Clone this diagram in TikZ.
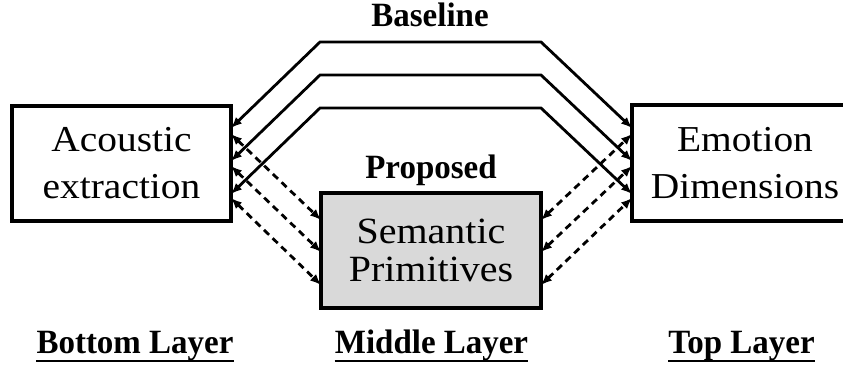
\documentclass[tikz,border=0pt]{standalone}
\usepackage{fontspec}
\setmainfont[FakeStretch=1.08]{Liberation Serif}
\newfontfamily\lblfont[FakeStretch=0.97]{Liberation Serif}
\usetikzlibrary{arrows.meta}
\definecolor{semgray}{HTML}{D9D9D9}
\begin{document}
\begin{tikzpicture}[x=1pt,y=-1pt,
  box/.style={draw, line width=3.2pt, outer sep=0pt, inner sep=0pt, align=center, font=\fontsize{36.5}{47}\selectfont},
  conn/.style={line width=2.8pt, {Latex[length=11pt,width=9pt]}-{Latex[length=11pt,width=9pt]}},
  dconn/.style={conn, dash pattern=on 7pt off 5pt},
  lbl/.style={font=\lblfont\bfseries\fontsize{34}{38}\selectfont, inner sep=0pt},
  uline/.style={line width=2.8pt}
]
\clip (0,0) rectangle (843,367);
\node[box, minimum width=219pt, minimum height=115pt] (A) at (121.5,163.5) {Acoustic\\extraction};
\node[box, minimum width=226pt, minimum height=116pt] (E) at (745,163) {Emotion\\Dimensions};
\node[box, fill=semgray, minimum width=220pt, minimum height=115pt, font=\fontsize{37}{38}\selectfont] (S) at (431,250.5) {Semantic\\Primitives};

% baseline connections (solid)
\draw[conn] (A.east |- 0,128) -- (320,42) -- (541,42) -- (E.west |- 0,128);
\draw[conn] (A.east |- 0,161) -- (320,75) -- (541,75) -- (E.west |- 0,161);
\draw[conn] (A.east |- 0,194) -- (320,108) -- (541,108) -- (E.west |- 0,194);

% proposed connections (dashed)
\draw[dconn] (A.east |- 0,134) -- (S.west |- 0,220);
\draw[dconn] (A.east |- 0,166) -- (S.west |- 0,252);
\draw[dconn] (A.east |- 0,198) -- (S.west |- 0,285);
\draw[dconn] (S.east |- 0,220) -- (E.west |- 0,134);
\draw[dconn] (S.east |- 0,252) -- (E.west |- 0,166);
\draw[dconn] (S.east |- 0,285) -- (E.west |- 0,198);

\node[lbl, anchor=base] (base) at (430,26) {Baseline};
\node[lbl, anchor=base] (prop) at (431,178) {Proposed};

\node[lbl, anchor=base] (bl) at (135,353) {Bottom Layer};
\node[lbl, anchor=base] (ml) at (431.5,353) {Middle Layer};
\node[lbl, anchor=base] (tl) at (741.5,353) {Top Layer};
\draw[uline] ([yshift=-8pt]bl.base west) -- ([yshift=-8pt]bl.base east);
\draw[uline] ([yshift=-8pt]ml.base west) -- ([yshift=-8pt]ml.base east);
\draw[uline] ([yshift=-8pt]tl.base west) -- ([yshift=-8pt]tl.base east);
\end{tikzpicture}
\end{document}
